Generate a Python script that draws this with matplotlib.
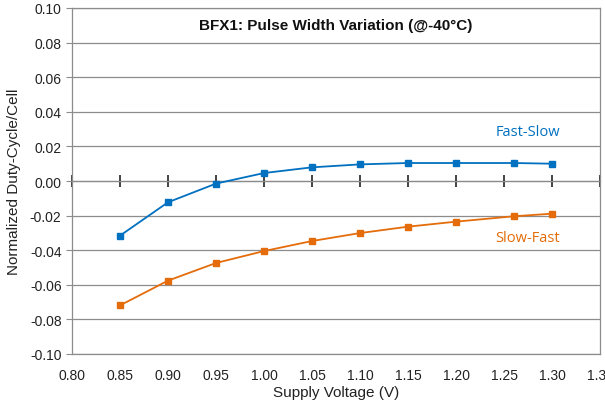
import matplotlib
matplotlib.use("Agg")
import matplotlib.pyplot as plt
from matplotlib.ticker import FormatStrFormatter, FuncFormatter, MultipleLocator, NullFormatter

# Données
voltage = [0.85, 0.90, 0.95, 1.00, 1.05, 1.10, 1.15, 1.20, 1.26, 1.30]
fast_slow = [-0.0316, -0.0123, -0.0015, 0.0046, 0.0079, 0.0096, 0.0104, 0.0104, 0.0104, 0.0100]
slow_fast = [-0.0719, -0.0576, -0.0474, -0.0405, -0.0347, -0.0301, -0.0264, -0.0235, -0.0204, -0.0189]

blue = "#0070C0"
orange = "#E46C0A"

plt.rcParams["font.family"] = ["Liberation Sans", "DejaVu Sans"]

fig = plt.figure(figsize=(6.05, 4.14), dpi=100)
ax = fig.add_axes([72 / 605, 59 / 414, 528 / 605, 346 / 414])

ax.plot(voltage, fast_slow, color=blue, marker="s", markersize=4.5, linewidth=1.3)
ax.plot(voltage, slow_fast, color=orange, marker="s", markersize=4.5, linewidth=1.3)

ax.set_xlim(0.80, 1.35)
ax.set_ylim(-0.10, 0.10)
ax.xaxis.set_major_locator(MultipleLocator(0.05))
ax.yaxis.set_major_locator(MultipleLocator(0.02))
ax.xaxis.set_major_formatter(FormatStrFormatter("%.2f"))
# pas de "-0.00"
ax.yaxis.set_major_formatter(FuncFormatter(lambda v, p: "%.2f" % (0.0 if abs(v) < 1e-9 else v)))
ax.grid(axis="y", color="#8c8c8c", linewidth=0.9)
ax.set_axisbelow(True)

for s in ax.spines.values():
    s.set_color("#8c8c8c")
    s.set_linewidth(0.9)

ax.tick_params(axis="y", length=4, color="#8c8c8c", labelsize=10, colors="#222222")
ax.tick_params(axis="x", length=0, labelsize=10, colors="#222222", pad=10)

# axe horizontal qui croise a y=0
sec = ax.secondary_xaxis(0.5)
sec.spines["bottom"].set_color("#222222")
sec.spines["bottom"].set_linewidth(1.3)
sec.xaxis.set_major_locator(MultipleLocator(0.05))
sec.xaxis.set_major_formatter(NullFormatter())
sec.tick_params(axis="x", which="both", direction="inout", length=9, width=1.2, color="#222222",
                labelbottom=False, labeltop=False)

ax.set_xlabel("Supply Voltage (V)", fontsize=11, color="#222222", labelpad=2)
ax.set_ylabel("Normalized Duty-Cycle/Cell", fontsize=11, color="#222222", labelpad=6)

ax.text(0.5, 0.952, "BFX1: Pulse Width Variation (@-40\u00b0C)", transform=ax.transAxes,
        ha="center", va="center", fontsize=11, fontweight="bold", color="#111111")
ax.text(1.275, 0.0285, "Fast-Slow", color=blue, fontsize=10.5, family=["Open Sans", "DejaVu Sans"],
        ha="center", va="center")
ax.text(1.275, -0.0325, "Slow-Fast", color=orange, fontsize=10.5, family=["Open Sans", "DejaVu Sans"],
        ha="center", va="center")

fig.savefig("out.png", dpi=100)
